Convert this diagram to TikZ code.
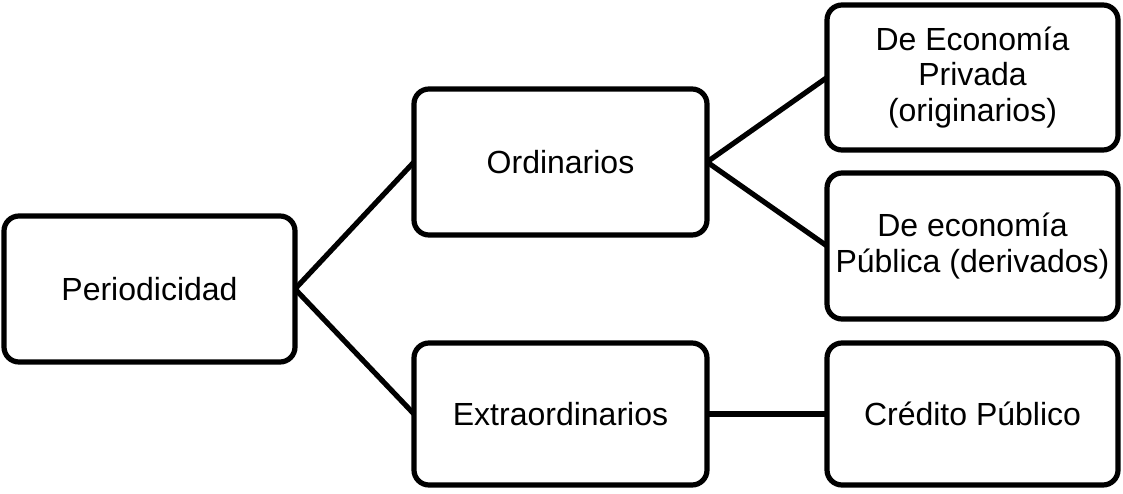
\documentclass[tikz,border=0pt]{standalone}
\usepackage{fontspec}
\setmainfont{Liberation Sans}
\begin{document}
\begin{tikzpicture}[x=1pt,y=-1pt,
  box/.style={draw=black, line width=5.2pt, rounded corners=15pt, fill=white,
    align=center, inner sep=0pt, outer sep=0pt,
    font=\fontsize{32}{35.5}\selectfont},
  link/.style={line width=5.2pt, draw=black}]
\useasboundingbox (0,0) rectangle (1123,494);
\node[box, minimum width=291pt, minimum height=146pt] (per) at (149.5,289) {Periodicidad};
\node[box, minimum width=293pt, minimum height=146pt] (ord) at (560.5,162) {Ordinarios};
\node[box, minimum width=293pt, minimum height=142pt] (ext) at (560.5,414) {Extraordinarios};
\node[box, minimum width=291pt, minimum height=145pt] (pri) at (972.5,77.5) {De Economía\\Privada\\(originarios)};
\node[box, minimum width=291pt, minimum height=146pt] (pub) at (972.5,246) {De economía\\Pública (derivados)};
\node[box, minimum width=291pt, minimum height=142pt] (cre) at (972.5,414) {Crédito Público};
\draw[link] (per.east) -- (ord.west);
\draw[link] (per.east) -- (ext.west);
\draw[link] (ord.east) -- (pri.west);
\draw[link] (ord.east) -- (pub.west);
\draw[link] (ext.east) -- (cre.west);
\end{tikzpicture}
\end{document}
